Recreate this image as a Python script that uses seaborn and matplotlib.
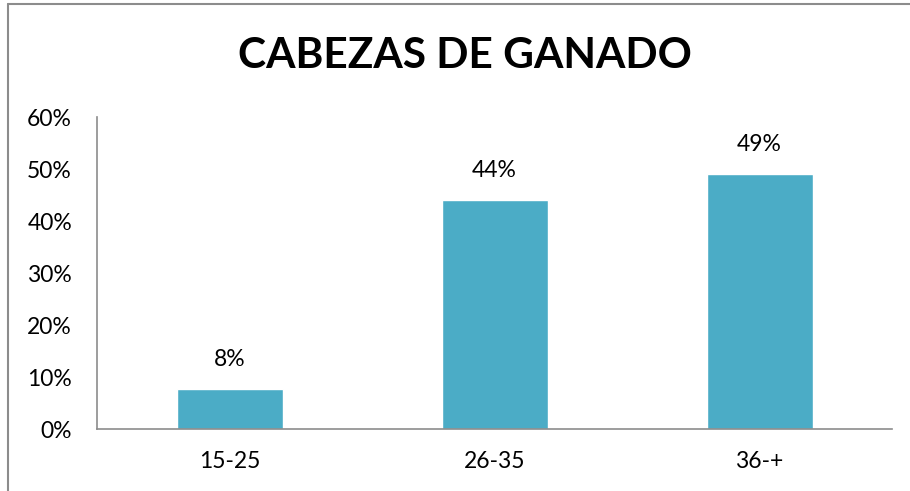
import matplotlib
matplotlib.use("Agg")
import matplotlib.pyplot as plt
import seaborn as sns
import pandas as pd
from matplotlib.lines import Line2D
from matplotlib.ticker import PercentFormatter

categorias = ["15-25", "26-35", "36-+"]
valores = [0.076, 0.440, 0.490]
etiquetas = ["8%", "44%", "49%"]

sns.set_style("white")
plt.rcParams["font.family"] = ["Lato", "DejaVu Sans"]

df = pd.DataFrame({"edad": categorias, "pct": valores})

fig = plt.figure(figsize=(9.1, 4.91), dpi=100)
ax = fig.add_axes([97 / 910, 62 / 491, (892 - 97) / 910, (429 - 117) / 491])
sns.barplot(data=df, x="edad", y="pct", color="#4BACC6", width=0.4,
            saturation=1, ax=ax)

ax.set_ylim(0, 0.6)
ax.set_xlim(-0.5, 2.5)
ax.set_yticks([0, 0.1, 0.2, 0.3, 0.4, 0.5, 0.6])
ax.yaxis.set_major_formatter(PercentFormatter(1, decimals=0))
ax.set_xlabel("")
ax.set_ylabel("")
ax.tick_params(axis="both", length=0, labelsize=16.5, colors="black")
ax.tick_params(axis="y", pad=18)
ax.tick_params(axis="x", pad=16)

for s in ["top", "right"]:
    ax.spines[s].set_visible(False)
for s in ["left", "bottom"]:
    ax.spines[s].set_color("#8c8c8c")
    ax.spines[s].set_linewidth(1.2)

ax.bar_label(ax.containers[0], labels=etiquetas, padding=14, fontsize=16.5,
             color="black")

fig.text(465 / 910, 1 - 56 / 491, "CABEZAS DE GANADO", ha="center", va="center",
         fontsize=30.5, fontweight="bold", color="black")

# marco del grafico
fig.add_artist(Line2D([8 / 910, 8 / 910], [0, 1 - 4 / 491], color="#8c8c8c",
                      lw=1.5, transform=fig.transFigure))
fig.add_artist(Line2D([8 / 910, 1], [1 - 4 / 491, 1 - 4 / 491], color="#8c8c8c",
                      lw=1.5, transform=fig.transFigure))

fig.savefig("out.png", dpi=100)
